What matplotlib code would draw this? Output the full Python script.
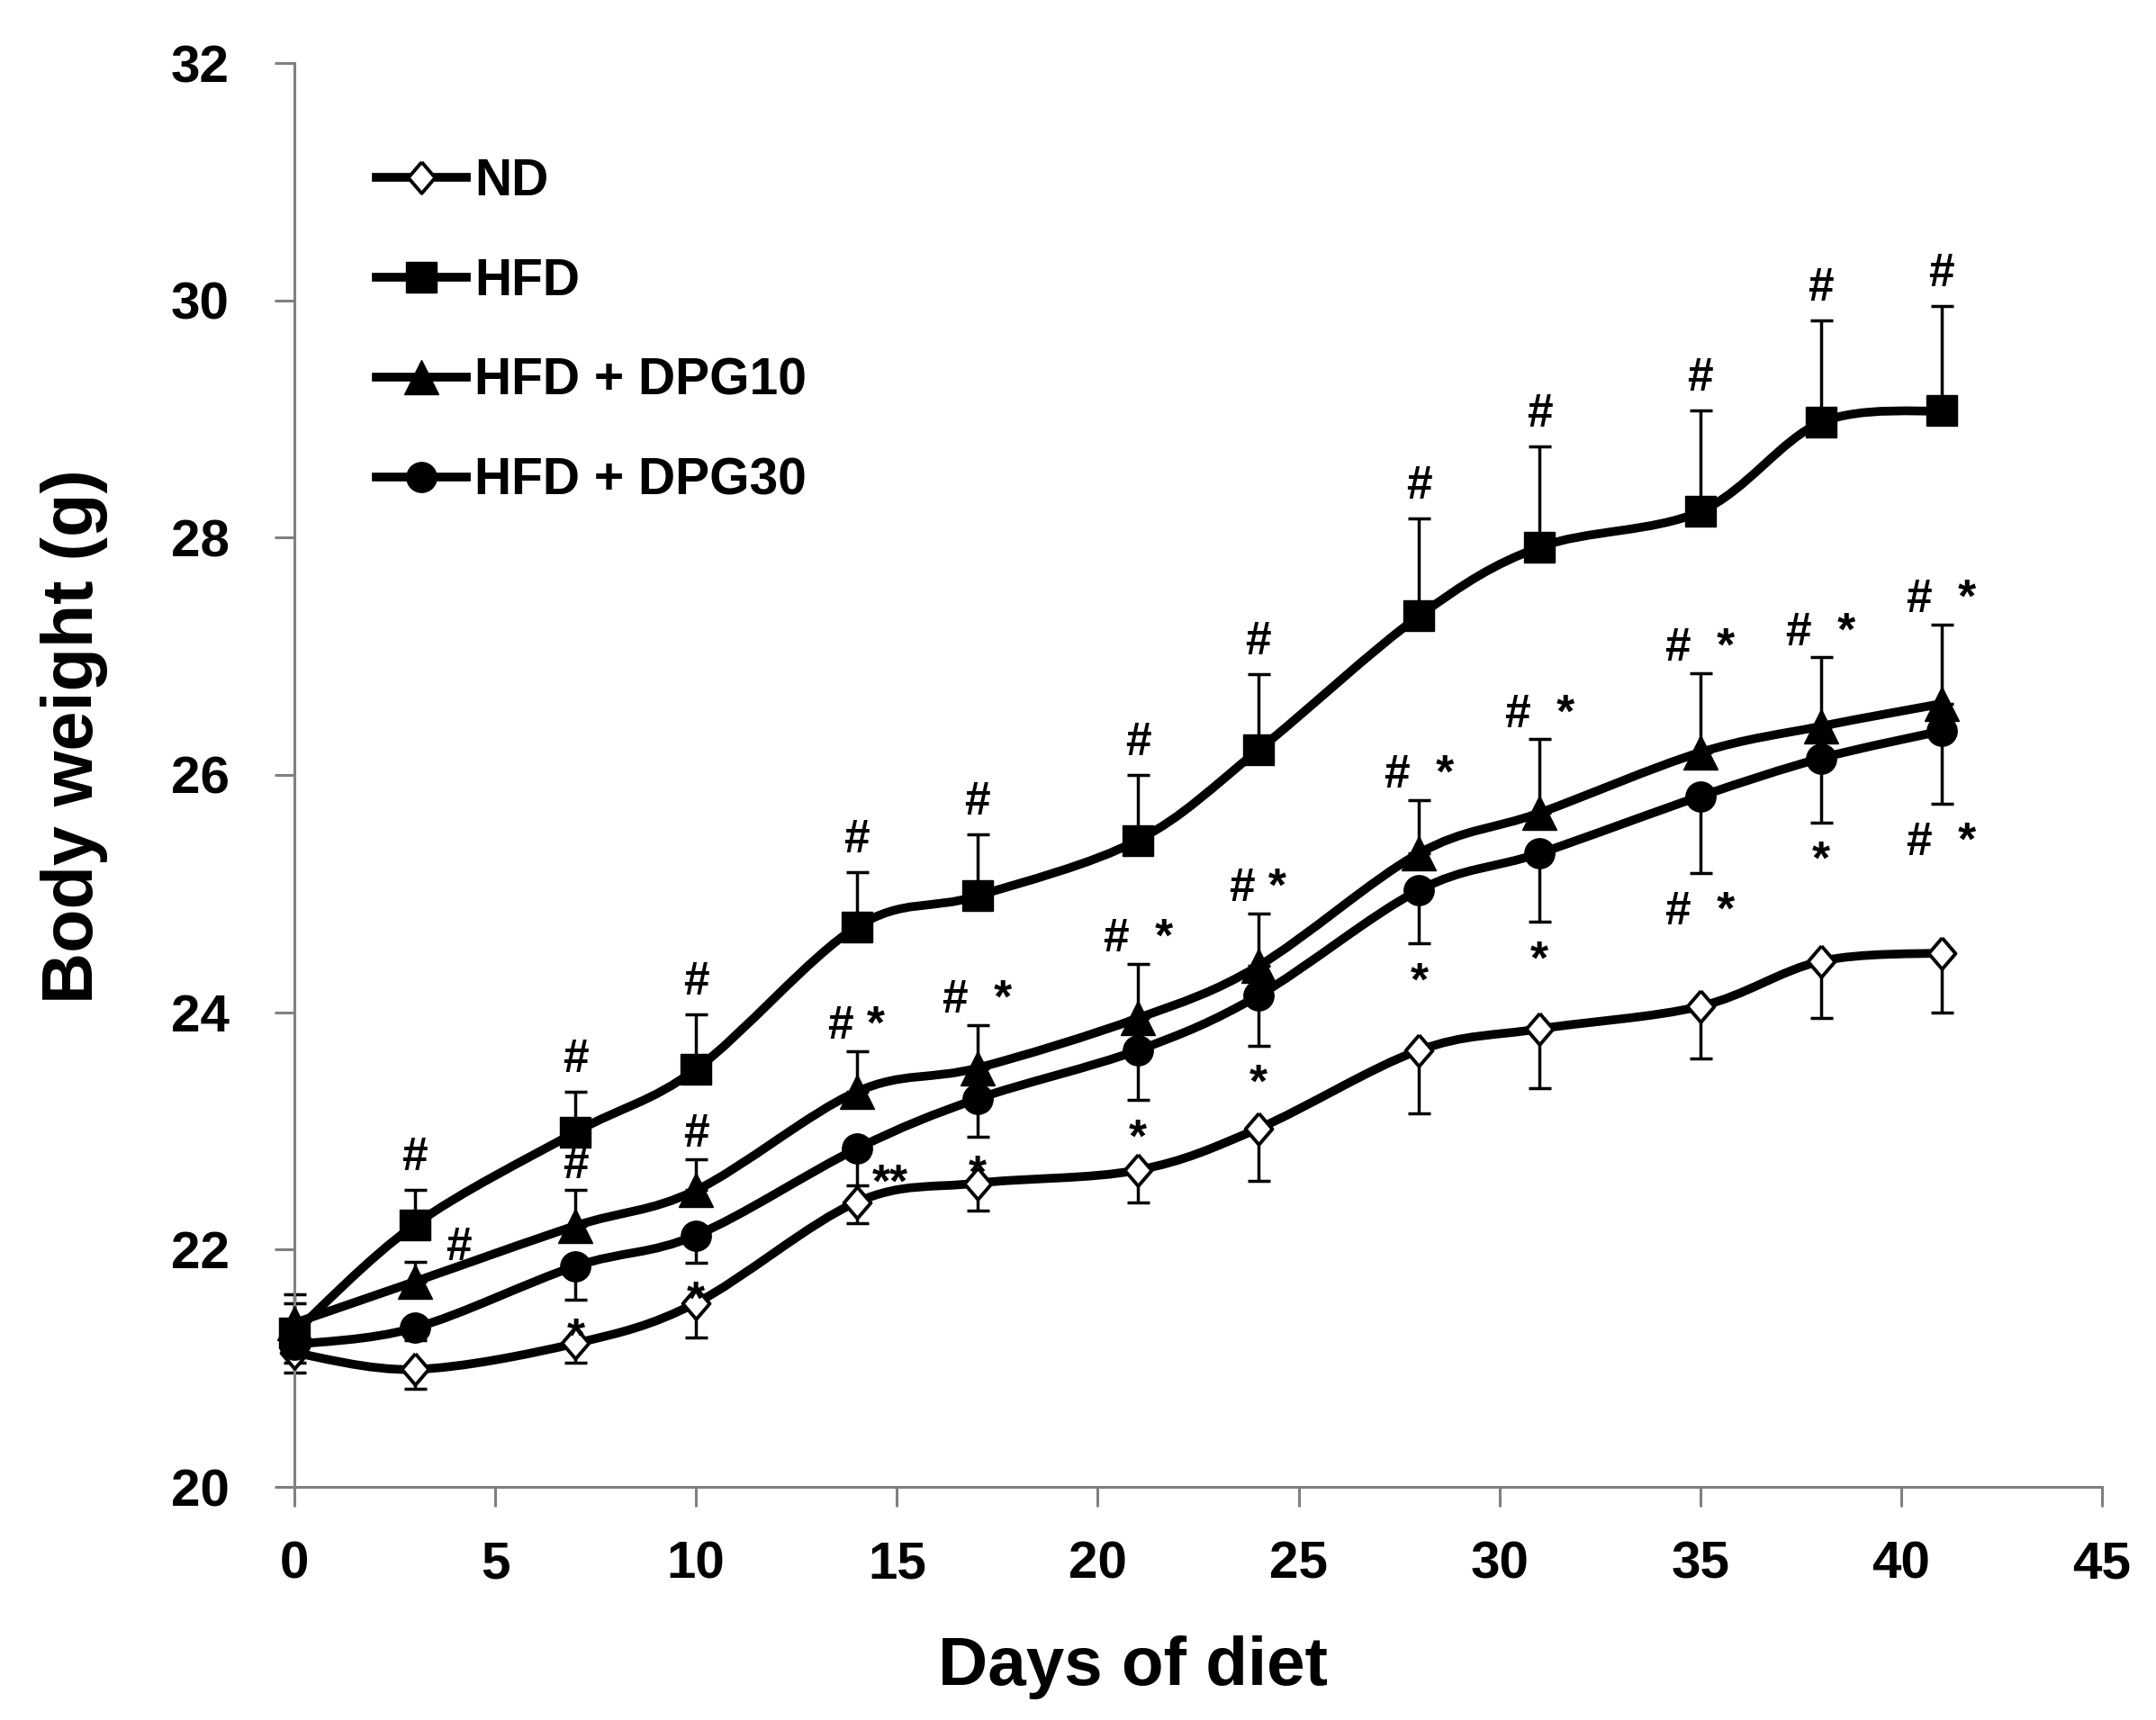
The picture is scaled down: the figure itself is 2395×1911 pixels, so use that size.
import numpy as np
import matplotlib
matplotlib.use('Agg')
import matplotlib.pyplot as plt
from matplotlib.path import Path
from matplotlib.patches import PathPatch
from matplotlib.lines import Line2D

plt.rcParams['font.family'] = ['Liberation Sans', 'DejaVu Sans']
plt.rcParams['font.weight'] = 'bold'

# 데이터
days = [0, 3, 7, 10, 14, 17, 21, 24, 28, 31, 35, 38, 41]
nd = [21.13, 20.99, 21.21, 21.55, 22.40, 22.56, 22.67, 23.02, 23.68, 23.86, 24.05, 24.43, 24.50]
nd_err = [0.17, 0.16, 0.16, 0.29, 0.18, 0.23, 0.27, 0.44, 0.53, 0.50, 0.44, 0.48, 0.50]
hfd = [21.30, 22.21, 22.99, 23.52, 24.72, 24.98, 25.45, 26.21, 27.34, 27.92, 28.22, 28.97, 29.07]
hfd_err = [0.25, 0.29, 0.34, 0.46, 0.46, 0.52, 0.55, 0.64, 0.82, 0.85, 0.85, 0.86, 0.88]
dpg10 = [21.38, 21.73, 22.20, 22.50, 23.33, 23.53, 23.95, 24.39, 25.34, 25.68, 26.19, 26.41, 26.60]
dpg10_err = [0.24, 0.17, 0.30, 0.26, 0.34, 0.36, 0.46, 0.44, 0.45, 0.62, 0.67, 0.58, 0.67]
dpg30 = [21.20, 21.34, 21.86, 22.12, 22.85, 23.27, 23.68, 24.14, 25.03, 25.34, 25.82, 26.14, 26.37]
dpg30_err = [0.15, 0.10, 0.28, 0.23, 0.31, 0.32, 0.42, 0.42, 0.45, 0.58, 0.65, 0.54, 0.61]

hfd_sig = ['', '#', '#', '#', '#', '#', '#', '#', '#', '#', '#', '#', '#']
dpg10_sig = ['', '#', '#', '#', '# *', '#  *', '#  *', '# *', '#  *', '#  *', '#  *', '#  *', '#  *']
dpg30_sig = ['', '', '*', '*', '**', '*', '*', '*', '*', '*', '#  *', '*', '#  *']

labels = ['ND', 'HFD', 'HFD + DPG10', 'HFD + DPG30']
xticks = [0, 5, 10, 15, 20, 25, 30, 35, 40, 45]
yticks = [20, 22, 24, 26, 28, 30, 32]

W, H = 2395, 1911
fig = plt.figure(figsize=(W / 100, H / 100), dpi=100)
ax = fig.add_axes([327 / W, 1 - 1652 / H, (2335 - 327) / W, (1652 - 70) / H])


def smooth(x, y):
    # 엑셀 스타일 부드러운 선 (Catmull-Rom -> Bezier)
    p = np.column_stack([x, y]).astype(float)
    n = len(p)
    verts = [p[0]]
    codes = [Path.MOVETO]
    for i in range(n - 1):
        p0 = p[i - 1] if i > 0 else p[i]
        p1 = p[i]
        p2 = p[i + 1]
        p3 = p[i + 2] if i + 2 < n else p[i + 1]
        verts += [p1 + (p2 - p0) / 6, p2 - (p3 - p1) / 6, p2]
        codes += [Path.CURVE4] * 3
    return Path(verts, codes)


diamond = [(0, 1), (0.86, 0), (0, -1), (-0.86, 0), (0, 1)]
series = [
    (nd, nd_err, 'down', dict(marker=diamond, ms=25, mfc='white', mec='black', mew=2.8)),
    (hfd, hfd_err, 'up', dict(marker='s', ms=25, mfc='black', mec='black', mew=1)),
    (dpg10, dpg10_err, 'up', dict(marker='^', ms=27, mfc='black', mec='black', mew=1)),
    (dpg30, dpg30_err, 'down', dict(marker='o', ms=24, mfc='black', mec='black', mew=1)),
]

handles = []
for vals, err, side, mk in series:
    zeros = np.zeros(len(err))
    yerr = [err, zeros] if side == 'down' else [zeros, err]
    ax.errorbar(days, vals, yerr=yerr, fmt='none', ecolor='black', elinewidth=2.5,
                capsize=9, capthick=2.5, zorder=2, clip_on=False)
    ax.add_patch(PathPatch(smooth(days, vals), fill=False, lw=7, ec='black',
                           capstyle='round', joinstyle='round', zorder=3, clip_on=False))
    ax.plot(days, vals, ls='none', zorder=4, clip_on=False, **mk)
    handles.append(Line2D([], [], color='black', lw=7, **mk))

# 유의성 표시
sig_font = dict(fontsize=37, fontweight='bold', ha='center', va='baseline')
special = {('dpg10', 3): (35, 17), ('dpg30', 14): (27, -9)}
for name, vals, err, sig, side in [('hfd', hfd, hfd_err, hfd_sig, 'up'),
                                   ('dpg10', dpg10, dpg10_err, dpg10_sig, 'up'),
                                   ('dpg30', dpg30, dpg30_err, dpg30_sig, 'down')]:
    for d, v, e, s in zip(days, vals, err, sig):
        if not s:
            continue
        if (name, d) in special:
            dx, dy = special[(name, d)]
            anchor = v if name == 'dpg10' else v - e
        elif side == 'up':
            dx, dy = 0, 16 if name == 'hfd' else 10
            anchor = v + e
        else:
            dx, dy = 0, -41
            anchor = v - e
        ax.annotate(s, (d, anchor), xytext=(dx, dy), textcoords='offset points',
                    annotation_clip=False, zorder=5, **sig_font)

ax.set_xlim(0, 45)
ax.set_ylim(20, 32)
ax.set_xticks(xticks)
ax.set_yticks(yticks)
for sp in ['top', 'right']:
    ax.spines[sp].set_visible(False)
for sp in ['left', 'bottom']:
    ax.spines[sp].set_color('#808080')
    ax.spines[sp].set_linewidth(2.2)
ax.tick_params(axis='both', direction='out', length=16, width=2.2, color='#808080',
               labelsize=42)
ax.tick_params(axis='y', pad=36)
ax.tick_params(axis='x', pad=27)
for t in ax.get_xticklabels() + ax.get_yticklabels():
    t.set_fontweight('bold')

fig.text(83 / W, 1 - 818 / H, 'Body weight (g)', rotation=90, ha='center', va='center',
         fontsize=57, fontweight='bold')
fig.text(1258 / W, 1 - 1872 / H, 'Days of diet', ha='center', va='baseline',
         fontsize=55, fontweight='bold')

ax.legend(handles, labels, loc='upper left', bbox_to_anchor=(418 / W, 1 - 175 / H),
          bbox_transform=fig.transFigure, frameon=False, borderpad=0, borderaxespad=0,
          handlelength=1.76, handletextpad=0.16, labelspacing=1.0,
          prop=dict(size=41, weight='bold'))

fig.savefig('out.png', dpi=100)
